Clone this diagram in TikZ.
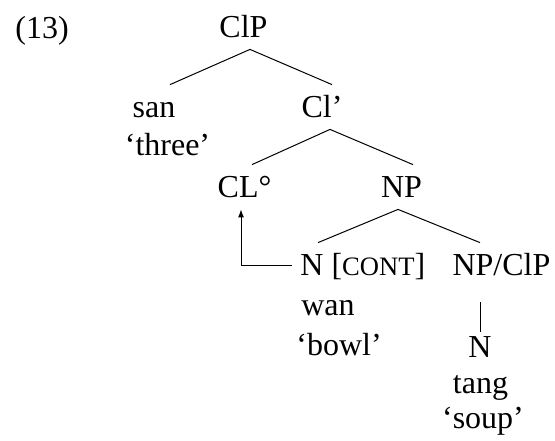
\documentclass[tikz,border=0pt]{standalone}
\usepackage{fontspec}
\setmainfont{Liberation Serif}
\usetikzlibrary{arrows.meta, positioning, calc}
\tikzset{
    font=\fontsize{16}{19}\selectfont,
    >={Latex[length=4pt,width=3pt]},
    % Labels
    cat/.style={anchor=base, inner xsep=0pt, inner ysep=6pt,
                text height=10pt, text depth=0pt},
    % Lines
    branch/.style={line width=0.5pt},
    move/.style={->, line width=0.5pt}
}

\begin{document}
\begin{tikzpicture}[x=0.5pt, y=-0.5pt]
\useasboundingbox (0,0) rectangle (555,440);

\node[cat, anchor=base west] (ex) at (15,38) {(13)};
\node[cat] (clp) at (243.5,37) {ClP};
\node[cat] (san) at (154,117) {san};
\node[cat] (three) at (167.5,155) {‘three’};
\node[cat] (clbar) at (322,117) {Cl’};
\node[cat] (clo) at (244.5,197) {CL°};
\node[cat] (np) at (401.5,197) {NP};
\node[cat, anchor=base west] (ncont) at (300,275) {N [{\fontsize{13.3}{13.3}\selectfont CONT}]};
\node[cat] (npclp) at (501.5,275) {NP/ClP};
\node[cat] (wan) at (328,315) {wan};
\node[cat] (bowl) at (339,355) {‘bowl’};
\node[cat] (n2) at (480,357) {N};
\node[cat] (tang) at (480.5,393) {tang};
\node[cat] (soup) at (483,428) {‘soup’};

\draw[branch] ([xshift=3.25pt]clp.south) -- ([xshift=8pt]san.north);
\draw[branch] ([xshift=3.25pt]clp.south) -- ([xshift=5pt]clbar.north);
\draw[branch] ([xshift=4pt]clbar.south) -- ([xshift=3.75pt]clo.north);
\draw[branch] ([xshift=4pt]clbar.south) -- ([xshift=5.75pt]np.north);
\draw[branch] ([xshift=-1.75pt]np.south) -- ([xshift=9pt]ncont.north west);
\draw[branch] ([xshift=-1.75pt]np.south) -- ([xshift=-10.75pt]npclp.north);
\draw[branch, shorten <=7.5pt, shorten >=-3.5pt] (n2.north |- npclp.south) -- (n2.north);
\draw[move, shorten <=4pt] (ncont.west) -| ([xshift=-1.75pt]clo.south);

\end{tikzpicture}
\end{document}
